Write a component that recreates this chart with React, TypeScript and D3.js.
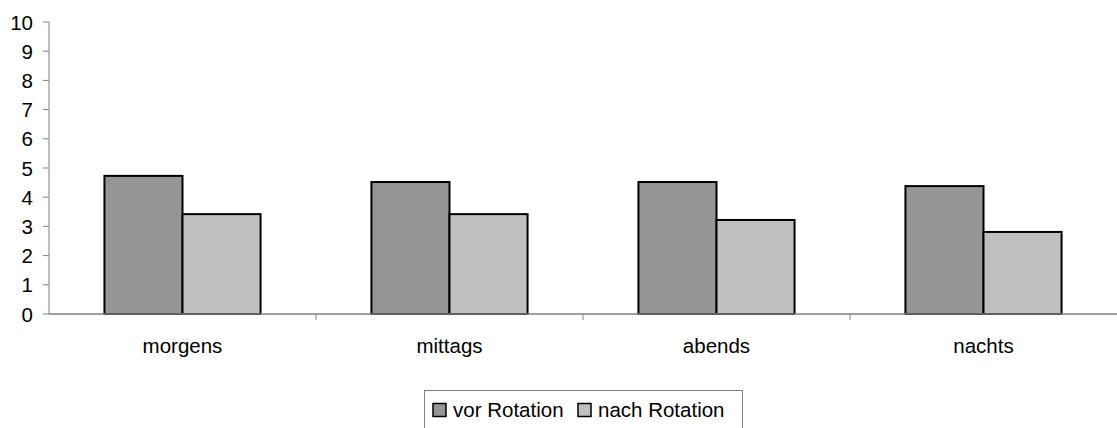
import React from "react";
import * as d3 from "d3";

const categories = ["morgens", "mittags", "abends", "nachts"];
const seriesNames = ["vor Rotation", "nach Rotation"];
const vorRotation = [4.73, 4.52, 4.52, 4.38];
const nachRotation = [3.42, 3.42, 3.22, 2.81];
const yTicks = [0, 1, 2, 3, 4, 5, 6, 7, 8, 9, 10];
const seriesColors = ["#969696", "#c0c0c0"];

const W = 1117;
const H = 428;
const margin = { left: 49, right: 0, top: 22, bottom: 114 };
const FONT = "'Liberation Sans', Arial, sans-serif";

export default function App() {
  const series = [vorRotation, nachRotation];
  const x = d3
    .scaleBand<string>()
    .domain(categories)
    .range([margin.left, W - margin.right]);
  const y = d3
    .scaleLinear()
    .domain([0, 10])
    .range([H - margin.bottom, margin.top]);
  // two touching bars centred in each category band
  const inner = d3
    .scaleBand<number>()
    .domain([0, 1])
    .range([0, x.bandwidth()])
    .paddingInner(0)
    .paddingOuter(0.71);

  const baseY = y(0);
  const boundaries = categories.slice(1).map((c) => x(c)!);

  return (
    <svg
      width={W}
      height={H}
      style={{ position: "absolute", left: 0, top: 0, display: "block" }}
      fontFamily={FONT}
    >
      <rect width={W} height={H} fill="#ffffff" />

      {/* bars */}
      {categories.map((c, ci) =>
        series.map((vals, si) => {
          const bx = x(c)! + inner(si)!;
          const top = y(vals[ci]);
          return (
            <rect
              key={`${c}-${si}`}
              x={bx}
              y={top}
              width={inner.bandwidth()}
              height={baseY - top}
              fill={seriesColors[si]}
              stroke="#000"
              strokeWidth={2}
            />
          );
        })
      )}

      {/* y axis */}
      <line x1={margin.left} x2={margin.left} y1={y(10)} y2={baseY} stroke="#808080" strokeWidth={1} />
      {yTicks.map((t) => (
        <g key={t}>
          <line x1={margin.left - 6} x2={margin.left} y1={y(t)} y2={y(t)} stroke="#808080" strokeWidth={1} />
          <text
            x={33}
            y={y(t)}
            textAnchor="end"
            dominantBaseline="central"
            fontSize={20.5}
            fill="#000"
          >
            {t}
          </text>
        </g>
      ))}

      {/* x axis */}
      <line x1={margin.left} x2={W} y1={baseY} y2={baseY} stroke="#808080" strokeWidth={1.5} />
      {boundaries.map((bx, i) => (
        <line key={i} x1={bx} x2={bx} y1={baseY} y2={baseY + 6} stroke="#808080" strokeWidth={1} />
      ))}
      {categories.map((c) => (
        <text
          key={c}
          x={x(c)! + x.bandwidth() / 2}
          y={345}
          textAnchor="middle"
          dominantBaseline="central"
          fontSize={20.5}
          fill="#000"
        >
          {c}
        </text>
      ))}

      {/* legend */}
      <rect x={424.5} y={390.5} width={318} height={44} fill="#fff" stroke="#808080" strokeWidth={1} />
      {seriesNames.map((name, i) => {
        const sx = i === 0 ? 433 : 578;
        return (
          <g key={name}>
            <rect x={sx} y={403.5} width={13} height={13} fill={seriesColors[i]} stroke="#000" strokeWidth={1.5} />
            <text x={sx + 20} y={409} dominantBaseline="central" fontSize={20.5} fill="#000">
              {name}
            </text>
          </g>
        );
      })}
    </svg>
  );
}
